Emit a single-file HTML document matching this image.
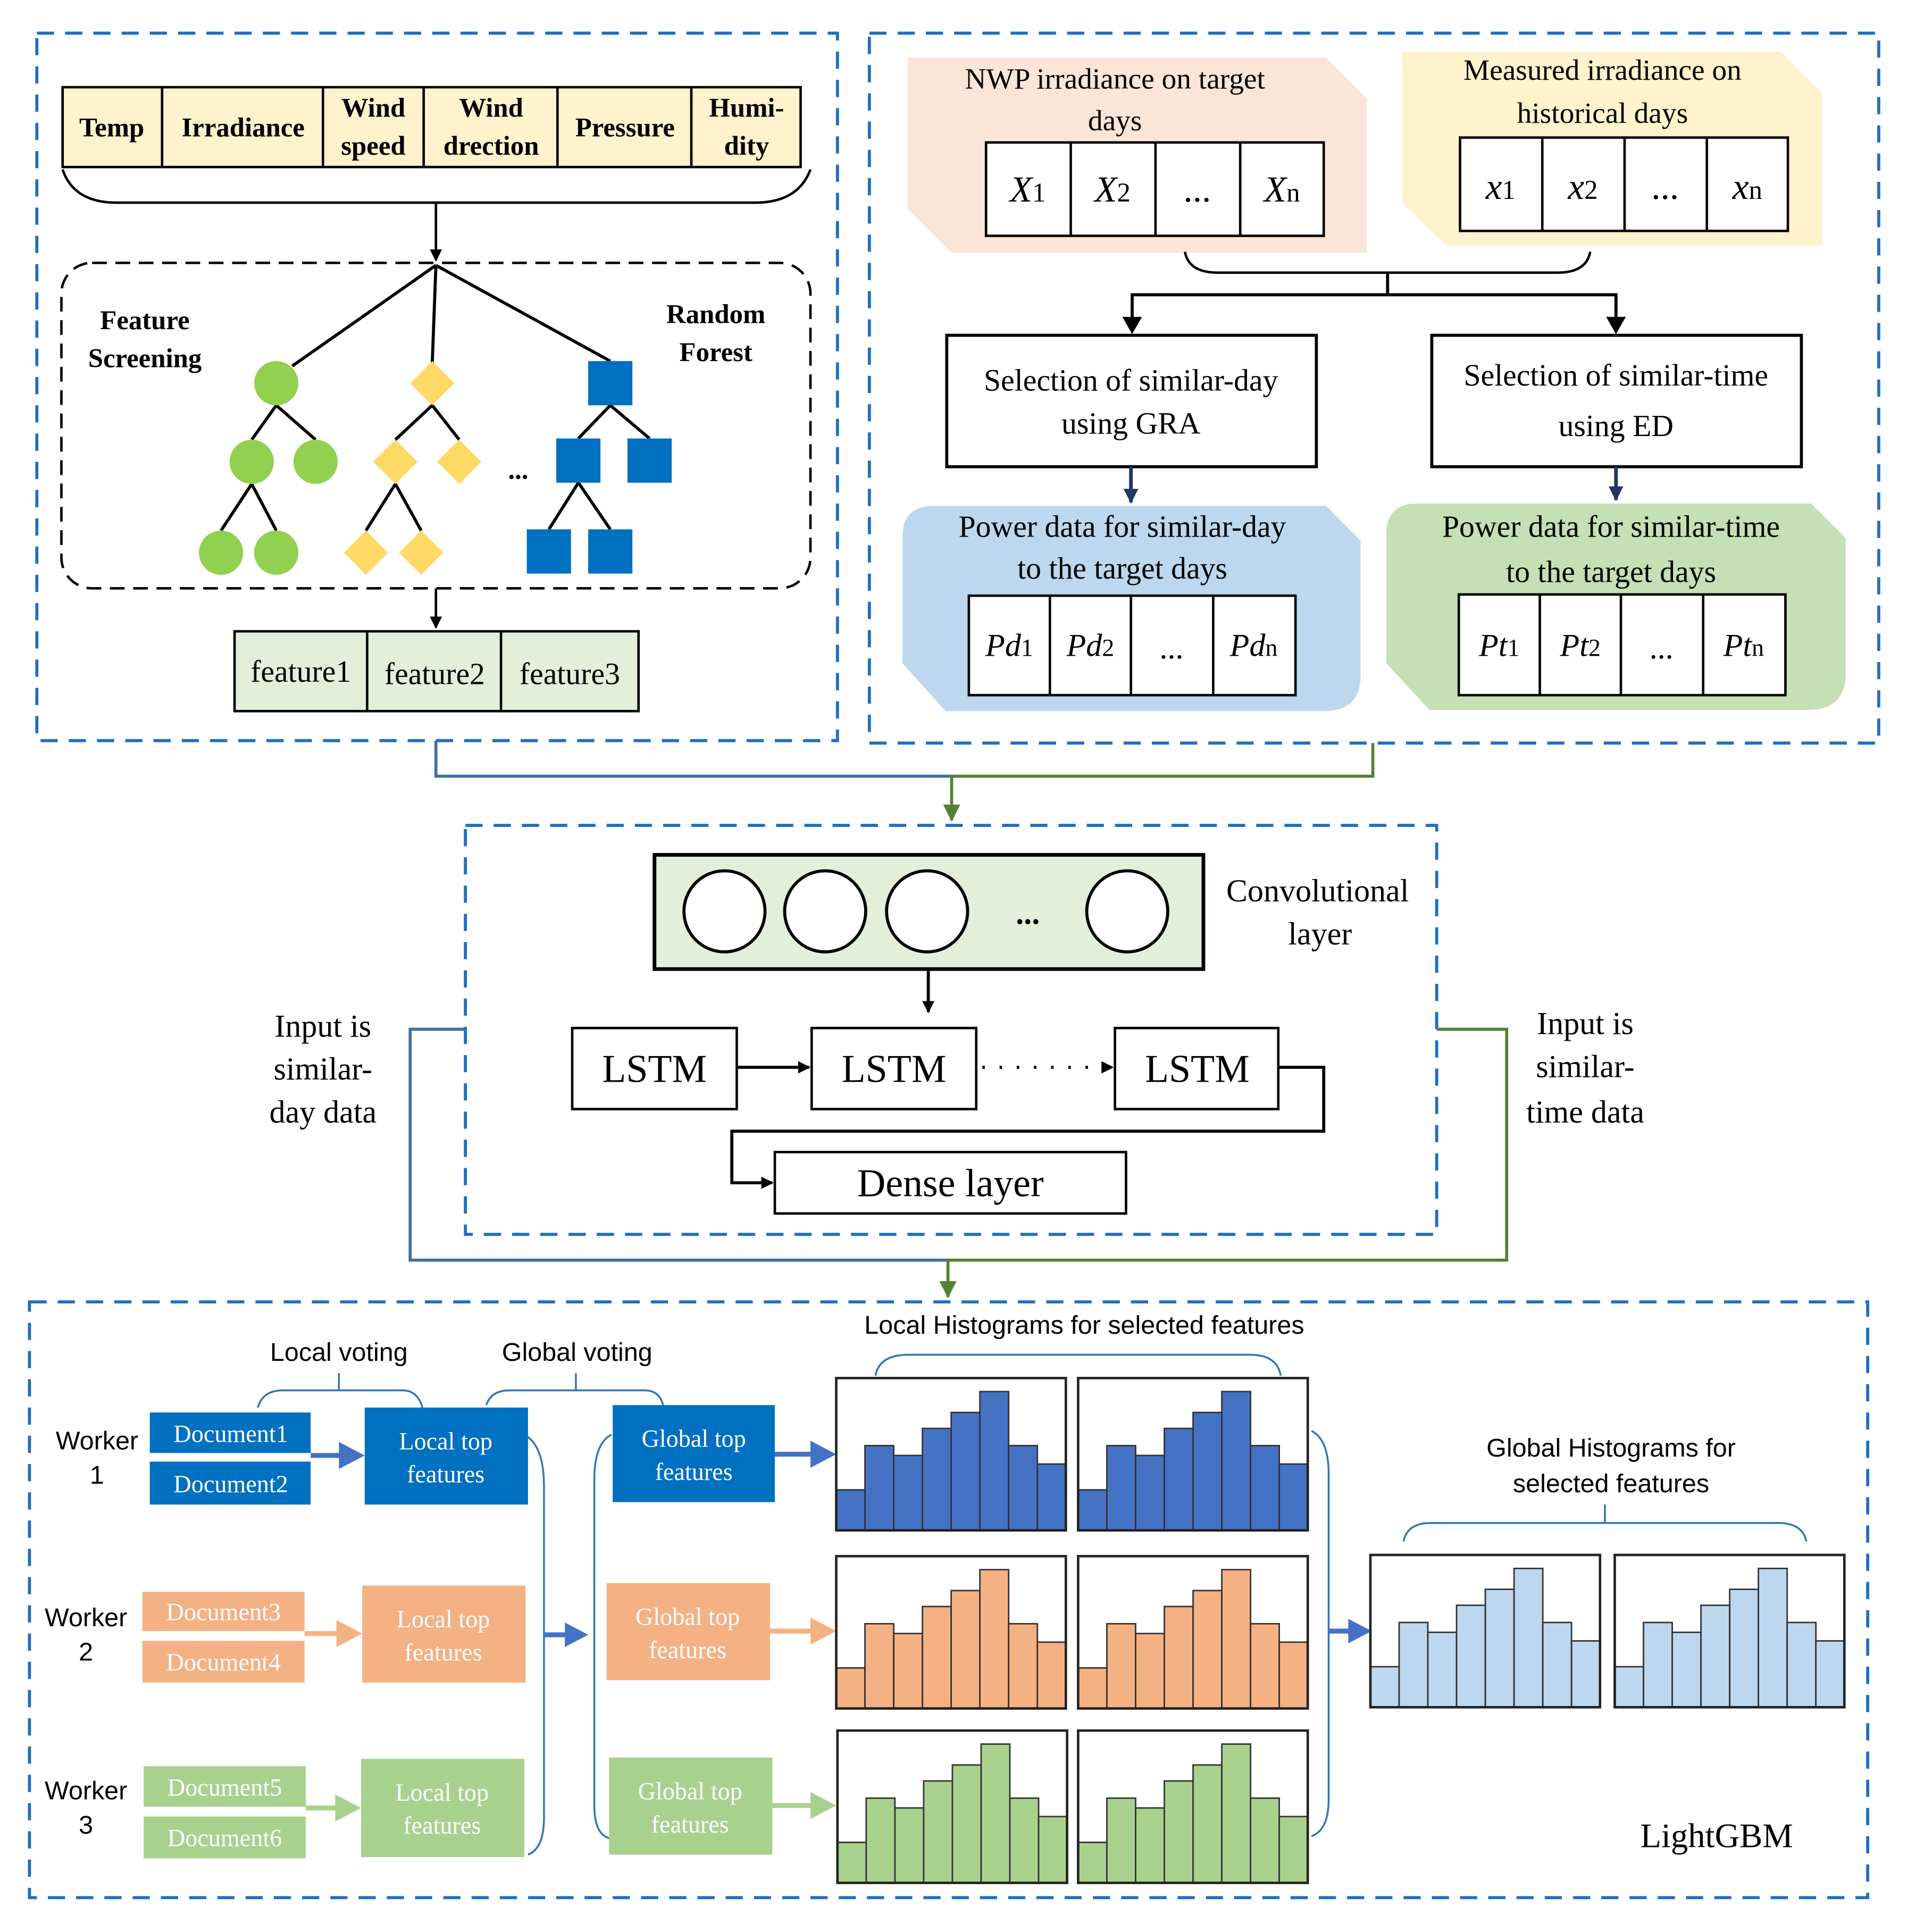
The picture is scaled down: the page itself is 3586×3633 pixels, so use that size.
<!DOCTYPE html>
<html><head><meta charset="utf-8"><style>
html,body{margin:0;padding:0;background:#fff;}
svg{display:block;}
.s{font-family:"Liberation Serif",serif;}
.a{font-family:"Liberation Sans",sans-serif;}
</style></head><body>
<svg width="3586" height="3633" viewBox="0 0 1553 1573" preserveAspectRatio="none" xmlns="http://www.w3.org/2000/svg">
<defs>
<marker id="ak" markerWidth="10" markerHeight="10" refX="9" refY="5" orient="auto" markerUnits="userSpaceOnUse"><path d="M0,0 L10,5 L0,10 z" fill="#000"/></marker>
<marker id="an" markerWidth="12" markerHeight="12" refX="11" refY="6" orient="auto" markerUnits="userSpaceOnUse"><path d="M0,0 L12,6 L0,12 z" fill="#1f3864"/></marker>
<marker id="ag" markerWidth="14" markerHeight="14" refX="13" refY="7" orient="auto" markerUnits="userSpaceOnUse"><path d="M0,0 L14,7 L0,14 z" fill="#548235"/></marker>
<g id="bars" stroke="#333" stroke-width="1.2">
<rect x="0" y="91" width="23.4" height="33"/><rect x="23.4" y="55" width="23.4" height="69"/><rect x="46.8" y="63" width="23.4" height="61"/><rect x="70.2" y="41" width="23.4" height="83"/><rect x="93.6" y="28" width="23.4" height="96"/><rect x="117" y="11" width="23.4" height="113"/><rect x="140.4" y="55" width="23.4" height="69"/><rect x="163.8" y="70" width="23.4" height="54"/>
<rect x="0" y="0" width="187" height="124" fill="none" stroke="#222" stroke-width="2"/>
</g>
</defs>
<rect width="1553" height="1573" fill="#fff"/>

<!-- dashed containers -->
<g fill="none" stroke="#1f6fc0" stroke-width="2.5" stroke-dasharray="14,9">
<rect x="30" y="27" width="652" height="576"/>
<rect x="708" y="27" width="822" height="578"/>
<rect x="379" y="672" width="791" height="333"/>
<rect x="24" y="1060" width="1497" height="485"/>
</g>

<!-- Top-left -->
<g stroke="#000" stroke-width="2">
<rect x="51" y="71" width="601" height="65" fill="#fff2cc"/>
<line x1="132" y1="71" x2="132" y2="136"/><line x1="263" y1="71" x2="263" y2="136"/><line x1="345" y1="71" x2="345" y2="136"/><line x1="454" y1="71" x2="454" y2="136"/><line x1="563" y1="71" x2="563" y2="136"/>
</g>
<g class="s" font-weight="bold" font-size="22" text-anchor="middle">
<text x="91" y="111">Temp</text><text x="198" y="111">Irradiance</text>
<text x="304" y="95">Wind</text><text x="304" y="126">speed</text>
<text x="400" y="95">Wind</text><text x="400" y="126">drection</text>
<text x="509" y="111">Pressure</text>
<text x="608" y="95">Humi-</text><text x="608" y="126">dity</text>
</g>
<path d="M51,138 Q60,165 95,165 L615,165 Q650,165 660,138" fill="none" stroke="#000" stroke-width="2"/>
<line x1="355" y1="165" x2="355" y2="212" stroke="#000" stroke-width="2" marker-end="url(#ak)"/>
<rect x="50" y="214" width="610" height="265" rx="25" fill="none" stroke="#000" stroke-width="2" stroke-dasharray="12,7"/>
<g stroke="#000" stroke-width="2.5">
<line x1="355" y1="216" x2="238" y2="298"/><line x1="355" y1="216" x2="352" y2="296"/><line x1="355" y1="216" x2="497" y2="294"/>
<line x1="225" y1="330" x2="205" y2="358"/><line x1="225" y1="330" x2="257" y2="358"/>
<line x1="205" y1="394" x2="180" y2="432"/><line x1="205" y1="394" x2="225" y2="432"/>
<line x1="352" y1="330" x2="322" y2="358"/><line x1="352" y1="330" x2="374" y2="358"/>
<line x1="322" y1="394" x2="298" y2="432"/><line x1="322" y1="394" x2="343" y2="432"/>
<line x1="497" y1="330" x2="471" y2="357"/><line x1="497" y1="330" x2="529" y2="357"/>
<line x1="471" y1="393" x2="447" y2="431"/><line x1="471" y1="393" x2="497" y2="431"/>
</g>
<g fill="#92d050"><circle cx="225" cy="312" r="18"/><circle cx="205" cy="376" r="18"/><circle cx="257" cy="376" r="18"/><circle cx="180" cy="450" r="18"/><circle cx="225" cy="450" r="18"/></g>
<g fill="#ffd966">
<path d="M352,294 L370,312 L352,330 L334,312z"/><path d="M322,358 L340,376 L322,394 L304,376z"/><path d="M374,358 L392,376 L374,394 L356,376z"/><path d="M298,432 L316,450 L298,468 L280,450z"/><path d="M343,432 L361,450 L343,468 L325,450z"/>
</g>
<g fill="#0070c0"><rect x="479" y="294" width="36" height="36"/><rect x="453" y="357" width="36" height="36"/><rect x="511" y="357" width="36" height="36"/><rect x="429" y="431" width="36" height="36"/><rect x="479" y="431" width="36" height="36"/></g>
<text x="422" y="390" class="s" font-size="22" font-weight="bold" text-anchor="middle">...</text>
<g class="s" font-weight="bold" font-size="22" text-anchor="middle">
<text x="118" y="268">Feature</text><text x="118" y="299">Screening</text>
<text x="583" y="263">Random</text><text x="583" y="294">Forest</text>
</g>
<line x1="355" y1="479" x2="355" y2="511" stroke="#000" stroke-width="2" marker-end="url(#ak)"/>
<g stroke="#000" stroke-width="2"><rect x="191" y="514" width="329" height="65" fill="#e2efd9"/><line x1="299" y1="514" x2="299" y2="579"/><line x1="408" y1="514" x2="408" y2="579"/></g>
<g class="s" font-size="25" text-anchor="middle"><text x="245" y="555">feature1</text><text x="354" y="557">feature2</text><text x="464" y="557">feature3</text></g>

<!-- Top-right -->
<path d="M739,47 L1080,47 L1113,80 L1113,206 L775,206 L739,170z" fill="#fbe5d6"/>
<path d="M1142,42 L1450,42 L1484,76 L1484,200 L1178,200 L1142,165z" fill="#fff2cc"/>
<g class="s" font-size="24" text-anchor="middle">
<text x="908" y="72">NWP irradiance on target</text><text x="908" y="106">days</text>
<text x="1305" y="65">Measured irradiance on</text><text x="1305" y="100">historical days</text>
</g>
<g stroke="#000" stroke-width="2" fill="#fff">
<rect x="803" y="116" width="275" height="76"/><line x1="872" y1="116" x2="872" y2="192"/><line x1="941" y1="116" x2="941" y2="192"/><line x1="1010" y1="116" x2="1010" y2="192"/>
<rect x="1189" y="112" width="267" height="76"/><line x1="1256" y1="112" x2="1256" y2="188"/><line x1="1323" y1="112" x2="1323" y2="188"/><line x1="1390" y1="112" x2="1390" y2="188"/>
</g>
<g class="s" font-size="30" text-anchor="middle">
<text x="837" y="164"><tspan font-style="italic">X</tspan><tspan font-size="22">1</tspan></text>
<text x="906" y="164"><tspan font-style="italic">X</tspan><tspan font-size="22">2</tspan></text>
<text x="975" y="164">...</text>
<text x="1044" y="164"><tspan font-style="italic">X</tspan><tspan font-size="22">n</tspan></text>
<text x="1222" y="162"><tspan font-style="italic">x</tspan><tspan font-size="22">1</tspan></text>
<text x="1289" y="162"><tspan font-style="italic">x</tspan><tspan font-size="22">2</tspan></text>
<text x="1356" y="162">...</text>
<text x="1423" y="162"><tspan font-style="italic">x</tspan><tspan font-size="22">n</tspan></text>
</g>
<path d="M965,205 Q968,222 992,222 L1268,222 Q1292,222 1295,205" fill="none" stroke="#000" stroke-width="2"/>
<g stroke="#000" stroke-width="2.5" fill="none">
<line x1="1130" y1="222" x2="1130" y2="240"/><polyline points="922,270 922,240 1316,240 1316,270"/>
</g>
<path d="M914,258 L930,258 L922,272z M1308,258 L1324,258 L1316,272z"/>
<g stroke="#000" stroke-width="2.5" fill="#fff"><rect x="771" y="273" width="301" height="107"/><rect x="1166" y="273" width="301" height="107"/></g>
<g class="s" font-size="25" text-anchor="middle">
<text x="921" y="318">Selection of similar-day</text><text x="921" y="353">using GRA</text>
<text x="1316" y="314">Selection of similar-time</text><text x="1316" y="355">using ED</text>
</g>
<line x1="921" y1="380" x2="921" y2="409" stroke="#1f3864" stroke-width="3" marker-end="url(#an)"/>
<line x1="1316" y1="380" x2="1316" y2="407" stroke="#1f3864" stroke-width="3" marker-end="url(#an)"/>
<path d="M760,412 L1080,412 L1108,440 L1108,550 Q1108,579 1078,579 L770,579 L735,540 L735,437 Q735,412 760,412z" fill="#bdd7ee"/>
<path d="M1154,410 L1475,410 L1503,438 L1503,548 Q1503,578 1473,578 L1164,578 L1129,540 L1129,435 Q1129,410 1154,410z" fill="#c5e0b4"/>
<g class="s" font-size="25" text-anchor="middle">
<text x="914" y="437">Power data for similar-day</text><text x="914" y="471">to the target days</text>
<text x="1312" y="437">Power data for similar-time</text><text x="1312" y="474">to the target days</text>
</g>
<g stroke="#000" stroke-width="2" fill="#fff">
<rect x="789" y="485" width="266" height="81"/><line x1="855" y1="485" x2="855" y2="566"/><line x1="921" y1="485" x2="921" y2="566"/><line x1="988" y1="485" x2="988" y2="566"/>
<rect x="1188" y="484" width="266" height="82"/><line x1="1254" y1="484" x2="1254" y2="566"/><line x1="1320" y1="484" x2="1320" y2="566"/><line x1="1387" y1="484" x2="1387" y2="566"/>
</g>
<g class="s" font-size="26" text-anchor="middle">
<text x="822" y="534"><tspan font-style="italic">Pd</tspan><tspan font-size="20">1</tspan></text>
<text x="888" y="534"><tspan font-style="italic">Pd</tspan><tspan font-size="20">2</tspan></text>
<text x="954" y="536">...</text>
<text x="1021" y="534"><tspan font-style="italic">Pd</tspan><tspan font-size="20">n</tspan></text>
<text x="1221" y="534"><tspan font-style="italic">Pt</tspan><tspan font-size="20">1</tspan></text>
<text x="1287" y="534"><tspan font-style="italic">Pt</tspan><tspan font-size="20">2</tspan></text>
<text x="1353" y="536">...</text>
<text x="1420" y="534"><tspan font-style="italic">Pt</tspan><tspan font-size="20">n</tspan></text>
</g>

<!-- connectors to middle -->
<polyline points="355,603 355,632 775,632" fill="none" stroke="#41719c" stroke-width="2.5"/>
<polyline points="1118,605 1118,632 775,632 775,668" fill="none" stroke="#548235" stroke-width="2.5" marker-end="url(#ag)"/>

<!-- Middle -->
<rect x="533" y="696" width="447" height="93" fill="#e2efd9" stroke="#000" stroke-width="3"/>
<g fill="#fff" stroke="#000" stroke-width="2.5"><circle cx="590" cy="742" r="33"/><circle cx="672" cy="742" r="33"/><circle cx="755" cy="742" r="33"/><circle cx="918" cy="742" r="33"/></g>
<text x="837" y="752" class="s" font-size="26" font-weight="bold" text-anchor="middle">...</text>
<g class="s" font-size="26" text-anchor="middle"><text x="1073" y="734">Convolutional</text><text x="1075" y="769">layer</text></g>
<line x1="756" y1="789" x2="756" y2="824" stroke="#000" stroke-width="2.5" marker-end="url(#ak)"/>
<g fill="#fff" stroke="#000" stroke-width="2"><rect x="466" y="837" width="134" height="66"/><rect x="661" y="837" width="134" height="66"/><rect x="908" y="837" width="133" height="66"/><rect x="631" y="938" width="286" height="50"/></g>
<g class="s" font-size="32" text-anchor="middle"><text x="533" y="881">LSTM</text><text x="728" y="881">LSTM</text><text x="975" y="881">LSTM</text><text x="774" y="974">Dense layer</text></g>
<line x1="600" y1="869" x2="659" y2="869" stroke="#000" stroke-width="2.5" marker-end="url(#ak)"/>
<line x1="800" y1="869" x2="906" y2="869" stroke="#000" stroke-width="2.5" stroke-dasharray="2,12" marker-end="url(#ak)"/>
<polyline points="1041,869 1078,869 1078,921 596,921 596,963 629,963" fill="none" stroke="#000" stroke-width="2.5" marker-end="url(#ak)"/>
<g class="s" font-size="26" text-anchor="middle">
<text x="263" y="844">Input is</text><text x="263" y="879">similar-</text><text x="263" y="914">day data</text>
<text x="1291" y="842">Input is</text><text x="1291" y="877">similar-</text><text x="1291" y="914">time data</text>
</g>
<polyline points="379,838 334,838 334,1026 772,1026" fill="none" stroke="#41719c" stroke-width="2.5"/>
<polyline points="1170,838 1227,838 1227,1026 772,1026 772,1056" fill="none" stroke="#548235" stroke-width="2.5" marker-end="url(#ag)"/>

<!-- Bottom -->
<g class="a" font-size="21" text-anchor="middle">
<text x="276" y="1108">Local voting</text><text x="470" y="1108">Global voting</text>
<text x="883" y="1086">Local Histograms for selected features</text>
<text x="1312" y="1186">Global Histograms for</text><text x="1312" y="1215">selected features</text>
<text x="79" y="1180">Worker</text><text x="79" y="1208">1</text>
<text x="70" y="1324">Worker</text><text x="70" y="1352">2</text>
<text x="70" y="1465">Worker</text><text x="70" y="1493">3</text>
</g>
<g fill="none" stroke="#2e75b6" stroke-width="1.5">
<path d="M210,1146 Q214,1132 230,1132 L328,1132 Q340,1132 344,1146 M276,1132 L276,1118"/>
<path d="M396,1144 Q400,1132 415,1132 L525,1132 Q537,1132 540,1144 M469,1132 L469,1118"/>
<path d="M713,1120 Q716,1103 740,1103 L1018,1103 Q1040,1103 1043,1120"/>
<path d="M1143,1255 Q1146,1240 1165,1240 L1448,1240 Q1468,1240 1471,1255 M1307,1240 L1307,1225"/>
<path d="M430,1170 Q443,1180 443,1210 L443,1480 Q443,1505 430,1510"/>
<path d="M498,1168 Q484,1175 484,1205 L484,1470 Q484,1495 498,1497"/>
<path d="M1068,1165 Q1082,1172 1082,1200 L1082,1465 Q1082,1490 1068,1495"/>
</g>
<g class="s" font-size="20" fill="#fff" text-anchor="middle">
<rect x="122" y="1150" width="131" height="33" fill="#0070c0"/><text x="188" y="1174">Document1</text>
<rect x="122" y="1190" width="131" height="35" fill="#0070c0"/><text x="188" y="1215">Document2</text>
<rect x="116" y="1296" width="132" height="32" fill="#f4b183"/><text x="182" y="1319">Document3</text>
<rect x="116" y="1336" width="132" height="34" fill="#f4b183"/><text x="182" y="1360">Document4</text>
<rect x="117" y="1438" width="132" height="33" fill="#a9d18e"/><text x="183" y="1462">Document5</text>
<rect x="117" y="1479" width="132" height="34" fill="#a9d18e"/><text x="183" y="1503">Document6</text>
<rect x="297" y="1146" width="133" height="79" fill="#0070c0"/><text x="363" y="1180">Local top</text><text x="363" y="1207">features</text>
<rect x="295" y="1291" width="133" height="79" fill="#f4b183"/><text x="361" y="1325">Local top</text><text x="361" y="1352">features</text>
<rect x="294" y="1432" width="133" height="80" fill="#a9d18e"/><text x="360" y="1466">Local top</text><text x="360" y="1493">features</text>
<rect x="499" y="1144" width="132" height="79" fill="#0070c0"/><text x="565" y="1178">Global top</text><text x="565" y="1205">features</text>
<rect x="494" y="1289" width="133" height="79" fill="#f4b183"/><text x="560" y="1323">Global top</text><text x="560" y="1350">features</text>
<rect x="496" y="1431" width="133" height="79" fill="#a9d18e"/><text x="562" y="1465">Global top</text><text x="562" y="1492">features</text>
</g>
<!-- thick arrows -->
<g stroke-width="4">
<line x1="253" y1="1185" x2="278" y2="1185" stroke="#4472c4"/><path d="M276,1174 L297,1185 L276,1196z" fill="#4472c4"/>
<line x1="248" y1="1330" x2="276" y2="1330" stroke="#f4b183"/><path d="M274,1319 L295,1330 L274,1341z" fill="#f4b183"/>
<line x1="249" y1="1472" x2="275" y2="1472" stroke="#a9d18e"/><path d="M273,1461 L294,1472 L273,1483z" fill="#a9d18e"/>
<line x1="631" y1="1184" x2="662" y2="1184" stroke="#4472c4"/><path d="M660,1173 L681,1184 L660,1195z" fill="#4472c4"/>
<line x1="627" y1="1328" x2="662" y2="1328" stroke="#f4b183"/><path d="M660,1317 L681,1328 L660,1339z" fill="#f4b183"/>
<line x1="629" y1="1470" x2="662" y2="1470" stroke="#a9d18e"/><path d="M660,1459 L681,1470 L660,1481z" fill="#a9d18e"/>
<line x1="443" y1="1331" x2="462" y2="1331" stroke="#4472c4"/><path d="M460,1321 L479,1331 L460,1341z" fill="#4472c4"/>
<line x1="1082" y1="1328" x2="1100" y2="1328" stroke="#4472c4"/><path d="M1098,1318 L1117,1328 L1098,1338z" fill="#4472c4"/>
</g>
<use href="#bars" x="681" y="1122" fill="#4472c4"/>
<use href="#bars" x="878" y="1122" fill="#4472c4"/>
<use href="#bars" x="681" y="1267" fill="#f4b183"/>
<use href="#bars" x="878" y="1267" fill="#f4b183"/>
<use href="#bars" x="682" y="1409" fill="#a9d18e"/>
<use href="#bars" x="878" y="1409" fill="#a9d18e"/>
<use href="#bars" x="1116" y="1266" fill="#bdd7ee"/>
<use href="#bars" x="1315" y="1266" fill="#bdd7ee"/>
<text x="1398" y="1504" class="s" font-size="28" text-anchor="middle">LightGBM</text>
</svg>
</body></html>
